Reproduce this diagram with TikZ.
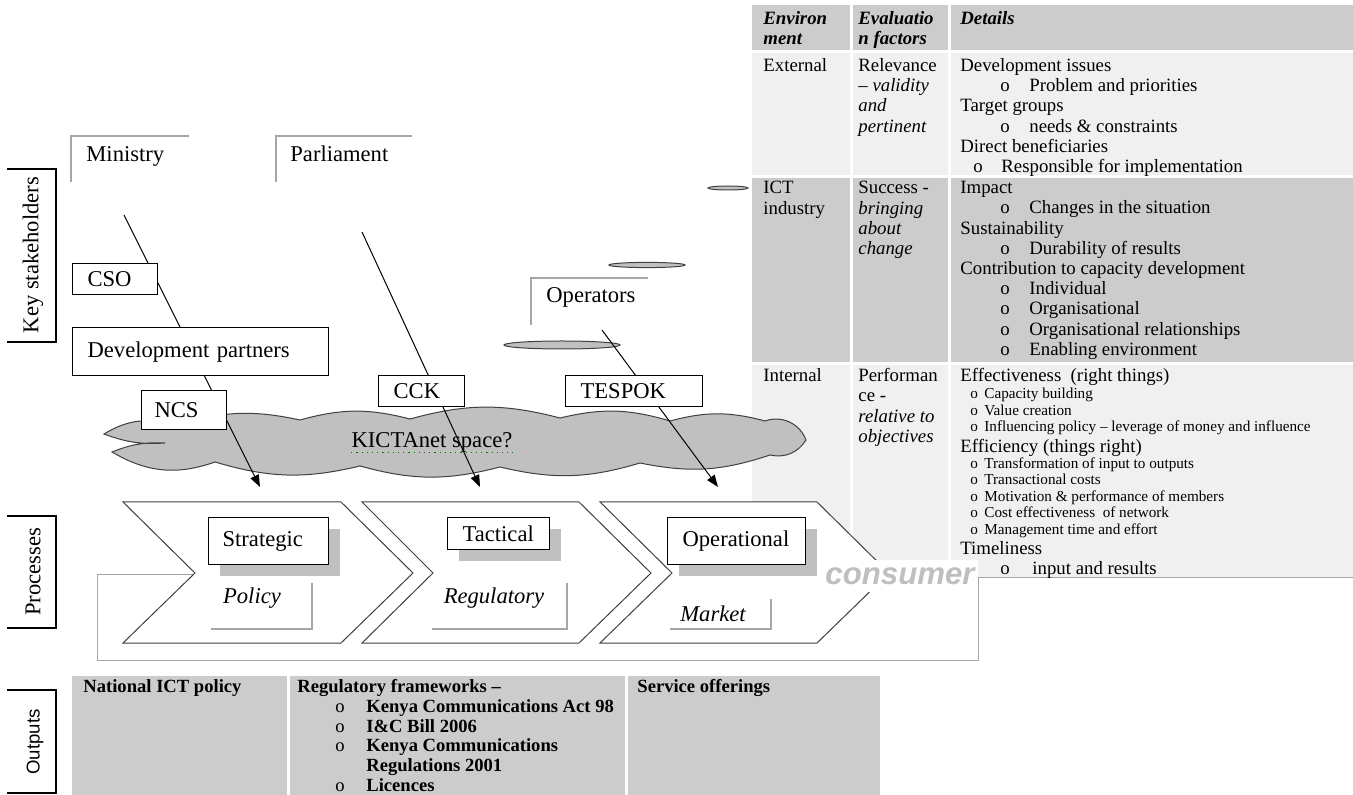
\documentclass[tikz,border=0pt]{standalone}
\usepackage{fontspec}
\setmainfont{Liberation Serif}
\setsansfont{Liberation Sans}
\usetikzlibrary{arrows.meta,shadows}
\definecolor{hdr}{HTML}{CCCCCC}
\definecolor{lite}{HTML}{F0F0F0}
\definecolor{cloudg}{HTML}{C0C0C0}
\definecolor{shad}{HTML}{C0C0C0}
\definecolor{rim}{HTML}{A6A6A6}
\definecolor{edge}{HTML}{404040}
\definecolor{cons}{HTML}{BFBFBF}
\newcommand{\bul}[3]{\hspace*{#1}\makebox[#2][l]{\mdseries o}#3}

\begin{document}
\begin{tikzpicture}[x=0.5pt,y=-0.5pt,
lbl/.style={font=\fontsize{11.3}{13}\selectfont,inner sep=0pt},
sbox/.style={draw,fill=white,line width=0.6pt,anchor=north west,inner xsep=7.5pt,inner ysep=0pt,align=left,font=\fontsize{11.3}{13}\selectfont},
pbox/.style={sbox,drop shadow={shadow xshift=5.5pt,shadow yshift=-5.5pt,fill=shad,opacity=1}},
tab/.style={font=\fontsize{9.4}{10.1}\selectfont,align=left,inner sep=0pt,anchor=north west},
tabs/.style={tab,font=\fontsize{7.6}{8.25}\selectfont},
outs/.style={tab,font=\bfseries\fontsize{9.3}{9.9}\selectfont},
side/.style={font=\fontsize{11.3}{13}\selectfont,rotate=90,inner sep=0pt},
arr/.style={-{Triangle[length=6pt,width=4.5pt]},line width=0.5pt},
brk/.style={draw=rim,line width=0.8pt},
chev/.style={draw=edge,fill=white,line width=0.5pt},
puff/.style={draw=edge,fill=cloudg,line width=0.5pt}]
\useasboundingbox (0,0) rectangle (1353,795);

\foreach \ya/\yb/\c in {5/50/hdr,53/175/lite,178/362/hdr,365/578/lite}{
\fill[fill=\c] (752,\ya) rectangle (850,\yb);
\fill[fill=\c] (853,\ya) rectangle (948,\yb);
\fill[fill=\c] (951,\ya) rectangle (1353,\yb);}
\draw[rim,line width=0.5pt] (978,578)--(1353,578);

\node[tab,font=\bfseries\itshape\fontsize{9.4}{10.1}\selectfont](h1) at (763,11){Environ\\ment};
\node[tab,font=\bfseries\itshape\fontsize{9.4}{10.1}\selectfont](h2) at (858,11){Evaluatio\\n factors};
\node[tab,font=\bfseries\itshape\fontsize{9.4}{10.1}\selectfont](h3) at (960,11){Details};

\node[tab](r1a) at (763,58){External};
\node[tab](r1b) at (858,58){Relevance\\-- \textit{validity}\\\textit{and}\\\textit{pertinent}};
\node[tab](r1c) at (960,58){Development issues\\\bul{20pt}{14.5pt}{Problem and priorities}\\Target groups\\\bul{20pt}{14.5pt}{needs \& constraints}\\Direct beneficiaries\\\bul{6.5pt}{14pt}{Responsible for implementation}};

\node[tab](r2a) at (763,181){ICT\\industry};
\node[tab](r2b) at (858,181){Success -\\\textit{bringing}\\\textit{about}\\\textit{change}};
\node[tab](r2c) at (960,181){Impact\\\bul{20pt}{14.5pt}{Changes in the situation}\\Sustainability\\\bul{20pt}{14.5pt}{Durability of results}\\Contribution to capacity development\\\bul{20pt}{14.5pt}{Individual}\\\bul{20pt}{14.5pt}{Organisational}\\\bul{20pt}{14.5pt}{Organisational relationships}\\\bul{20pt}{14.5pt}{Enabling environment}};

\node[tab](r3a) at (763,368){Internal};
\node[tab](r3b) at (858,368){Performan\\ce -\\\textit{relative to}\\\textit{objectives}};
\node[tab](r3c) at (960,368){Effectiveness\ \ (right things)};
\node[tabs](r3d) at (970,388){\bul{0pt}{7pt}{Capacity building}\\\bul{0pt}{7pt}{Value creation}\\\bul{0pt}{7pt}{Influencing policy -- leverage of money and influence}};
\node[tab](r3e) at (960,439){Efficiency (things right)};
\node[tabs](r3f) at (970,457){\bul{0pt}{7pt}{Transformation of input to outputs}\\\bul{0pt}{7pt}{Transactional costs}\\\bul{0pt}{7pt}{Motivation \& performance of members}\\\bul{0pt}{7pt}{Cost effectiveness\ \ of network}\\\bul{0pt}{7pt}{Management time and effort}};
\node[tab](r3g) at (960,541){Timeliness\\\bul{20pt}{16pt}{input and results}};

\draw[rim,line width=0.5pt] (195,575)--(97,575)--(97,660)--(978,660)--(978,578);
\draw[chev] (123,502)--(341,502)--(413,573)--(341,643)--(123,643)--(195,573)--cycle;
\draw[chev] (362,502)--(579,502)--(651,573)--(579,643)--(362,643)--(433,573)--cycle;
\draw[chev] (600,502)--(817,502)--(889,573)--(817,643)--(600,643)--(672,573)--cycle;

\node[pbox,text width=46pt,minimum height=23.5pt,inner xsep=7pt](strat) at (208,517){Strategic};
\node[pbox,text width=36pt,minimum height=16pt](tact) at (447,517){Tactical};
\node[pbox,text width=54pt,minimum height=23.5pt](oper) at (667,517){Operational};

\node[lbl,font=\itshape\fontsize{11.3}{13}\selectfont](pol) at (252,598){Policy};
\draw[brk] (312,583)--(312,629)--(211,629);
\node[lbl,font=\itshape\fontsize{11.3}{13}\selectfont](reg) at (494,598){Regulatory};
\draw[brk] (567,583)--(567,629)--(432,629);
\node[lbl,font=\itshape\fontsize{11.3}{13}\selectfont](mkt) at (713,614){Market};
\draw[brk] (771,599)--(771,629)--(670,629);

\node[fill=white,inner sep=0pt,minimum width=78pt,minimum height=16pt,text=cons,font=\sffamily\bfseries\itshape\fontsize{15.6}{18}\selectfont](cons) at (900,576){consumer};

\draw[line width=0.7pt] (7,169)--(56,169)--(56,342)--(7,342);
\node[side](ks) at (33,255){Key stakeholders};
\draw[line width=0.7pt] (7,516)--(56,516)--(56,628)--(7,628);
\node[side](pr) at (33,572){Processes};
\draw[line width=0.7pt] (7,690)--(56,690)--(56,793)--(7,793);
\node[side,font=\sffamily\fontsize{9.3}{11}\selectfont](ou) at (35,742){Outputs};

\draw[brk] (71,182)--(71,136)--(189,136);
\node[lbl,anchor=base west](min) at (86,162){Ministry};
\draw[brk] (276,182)--(276,136)--(412,136);
\node[lbl,anchor=base west](parl) at (290,162){Parliament};
\draw[brk] (531,325)--(531,278)--(648,278);
\node[lbl,anchor=base west](opr) at (546,303){Operators};

\draw[puff] (647,265) ellipse [x radius=19pt,y radius=1.3pt];
\draw[puff] (562,345) ellipse [x radius=29pt,y radius=2pt];
\draw[puff] (728,188) ellipse [x radius=10pt,y radius=1pt];

\draw[puff] (104,434) to[bend left=25] (175,426) to[bend left=15] (300,420) to[bend left=15] (410,419) to[bend left=15] (560,418) to[bend left=15] (670,421) to[bend left=15] (765,421) to[bend left=45] (806,440) to[bend left=35] (770,455) to[bend left=15] (640,463) to[bend left=15] (500,467) to[bend left=15] (360,466) to[bend left=15] (215,462) to[bend left=25] (112,452) to[bend left=12] (165,443) to[bend left=12] cycle;
\node[lbl](kt) at (432,442){KICTAnet space?};
\draw[green!50!black,dotted,line width=0.6pt] (kt.south west)--(kt.south east);

\coordinate (a1s) at (124,215);
\coordinate (a1e) at (260,487);
\coordinate (a2s) at (362,232);
\coordinate (a2e) at (480,487);
\coordinate (a3s) at (602,330);
\coordinate (a3e) at (718,487);
\draw[arr] (a1s)--(a1e);
\draw[arr] (a2s)--(a2e);
\draw[arr] (a3s)--(a3e);

\node[sbox,text width=27.5pt,minimum height=15.5pt](cso) at (72,263){CSO};
\node[sbox,text width=113pt,minimum height=24pt](dev) at (72,327){Development partners};
\node[sbox,text width=29.5pt,minimum height=19.5pt,inner xsep=6.5pt](ncs) at (141,390){NCS};
\node[sbox,text width=28pt,minimum height=15.5pt](cck) at (378,375){CCK};
\node[sbox,text width=53.5pt,minimum height=15.5pt](tesp) at (565,375){TESPOK};

\fill[hdr] (72,676) rectangle (287,795);
\fill[hdr] (290,676) rectangle (625,795);
\fill[hdr] (628,676) rectangle (880,795);
\node[outs](o1) at (83,679){National ICT policy};
\node[outs](o2) at (297,679){Regulatory frameworks --\\\bul{19pt}{15.5pt}{Kenya Communications Act 98}\\\bul{19pt}{15.5pt}{I\&C Bill 2006}\\\bul{19pt}{15.5pt}{Kenya Communications}\\\hspace*{34.5pt}Regulations 2001\\\bul{19pt}{15.5pt}{Licences}};
\node[outs](o3) at (637,679){Service offerings};
\end{tikzpicture}
\end{document}
